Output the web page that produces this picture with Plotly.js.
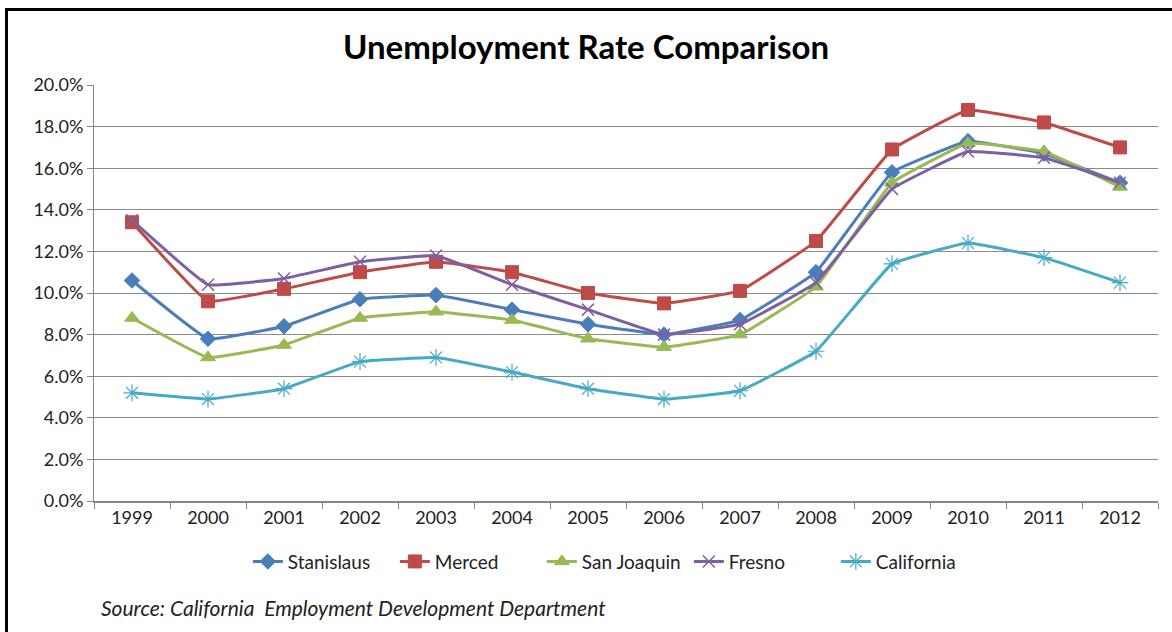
<!DOCTYPE html>
<html>
<head>
<meta charset="utf-8">
<script src="https://cdn.plot.ly/plotly-3.0.1.min.js"></script>
<style>
  html, body { margin: 0; padding: 0; background: #fff; }
  #wrap { position: relative; width: 1172px; height: 632px; overflow: hidden; }
  #chart { position: absolute; left: 0; top: 0; width: 1172px; height: 632px; }
  #frame { position: absolute; left: 5px; top: 8px; width: 1180px; height: 640px;
           border-top: 3px solid #000; border-left: 3px solid #000; pointer-events: none; }
</style>
</head>
<body>
<div id="wrap">
  <div id="chart"></div>
  <div id="frame"></div>
</div>
<script>
const years = ["1999","2000","2001","2002","2003","2004","2005","2006","2007","2008","2009","2010","2011","2012"];
const stanislaus  = [10.6, 7.8, 8.4, 9.7, 9.9, 9.2, 8.5, 8.0, 8.7, 11.0, 15.8, 17.3, 16.7, 15.3];
const merced      = [13.4, 9.6, 10.2, 11.0, 11.5, 11.0, 10.0, 9.5, 10.1, 12.5, 16.9, 18.8, 18.2, 17.0];
const sanJoaquin  = [8.8, 6.9, 7.5, 8.8, 9.1, 8.7, 7.8, 7.4, 8.0, 10.3, 15.3, 17.2, 16.8, 15.1];
const fresno      = [13.5, 10.4, 10.7, 11.5, 11.8, 10.4, 9.2, 8.0, 8.5, 10.5, 15.0, 16.8, 16.5, 15.3];
const california  = [5.2, 4.9, 5.4, 6.7, 6.9, 6.2, 5.4, 4.9, 5.3, 7.2, 11.4, 12.4, 11.7, 10.5];

const seriesNames = ["Stanislaus", "Merced", "San Joaquin", "Fresno", "California"];
const tickVals = [0, 2, 4, 6, 8, 10, 12, 14, 16, 18, 20];
const tickText = ["0.0%","2.0%","4.0%","6.0%","8.0%","10.0%","12.0%","14.0%","16.0%","18.0%","20.0%"];
const sourceText = "Source: California  Employment Development Department";

const styles = [
  {color: "#4A7EBB", symbol: "diamond", size: 12, lw: 1},
  {color: "#BE4B48", symbol: "square", size: 13, lw: 1},
  {color: "#98B954", symbol: "triangle-up", size: 13, lw: 1},
  {color: "#7D60A0", symbol: "x-thin", size: 12, lw: 1.5},
  {color: "#46AAC5", symbol: "asterisk", size: 14, lw: 1.2}
];
const allData = [stanislaus, merced, sanJoaquin, fresno, california];

const traces = allData.map((vals, i) => ({
  type: "scatter",
  mode: "lines+markers",
  name: seriesNames[i],
  x: years,
  y: vals,
  line: {color: styles[i].color, width: 3, shape: "spline", smoothing: 0.25},
  marker: {symbol: styles[i].symbol, size: styles[i].size, color: styles[i].color,
           line: {color: styles[i].color, width: styles[i].lw}}
}));

const font = "Lato, 'Open Sans', 'DejaVu Sans', sans-serif";

const layout = {
  width: 1172, height: 632,
  paper_bgcolor: "#fff", plot_bgcolor: "#fff",
  margin: {l: 94, r: 14, t: 85, b: 131},
  title: {text: "<b>Unemployment Rate Comparison</b>", x: 0.5, xanchor: "center",
          y: 0.925, yanchor: "middle", font: {family: font, size: 33, color: "#000"}},
  font: {family: font, size: 18, color: "#222"},
  xaxis: {
    type: "category", range: [-0.5, 13.5], showgrid: false,
    showline: true, linecolor: "#868686", linewidth: 1.5,
    ticks: "outside", ticklen: 6, tickcolor: "#868686", tickson: "boundaries",
    tickfont: {family: font, size: 18, color: "#222"}, fixedrange: true
  },
  yaxis: {
    range: [0, 20], tickvals: tickVals, ticktext: tickText,
    showgrid: true, gridcolor: "#8a8a8a", gridwidth: 1,
    showline: true, linecolor: "#868686", linewidth: 1,
    ticks: "outside", ticklen: 6, tickcolor: "#868686",
    zeroline: false,
    tickfont: {family: font, size: 18, color: "#222"}, fixedrange: true
  },
  showlegend: true,
  legend: {orientation: "h", x: 0.49, xanchor: "center", y: -0.10, yanchor: "top",
           font: {family: font, size: 19, color: "#222"}, entrywidth: 102, entrywidthmode: "pixels",
           tracegroupgap: 0, bgcolor: "rgba(0,0,0,0)"},
  annotations: [{
    text: "<i>" + sourceText + "</i>", xref: "paper", yref: "paper",
    x: 0.005, y: -0.255, xanchor: "left", yanchor: "middle", showarrow: false,
    font: {family: font, size: 21, color: "#222"}
  }]
};

Plotly.newPlot("chart", traces, layout, {displayModeBar: false, staticPlot: true});
</script>
</body>
</html>
